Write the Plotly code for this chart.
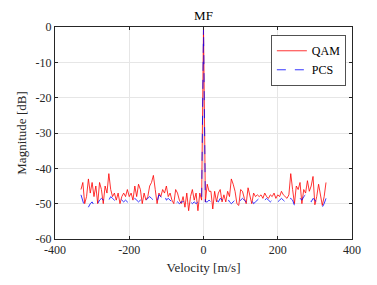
import numpy as np
import plotly.graph_objects as go

velocity = np.arange(-330, 331, 5)

qam_left = [-46, -44, -50, -48, -43, -47, -44, -48, -45, -50, -44,
            -46, -50, -45, -47, -41.5, -46, -48, -47, -49, -47, -50,
            -48, -47, -48, -46, -48, -47, -49, -45, -48, -44.5, -46,
            -50, -47, -49, -48, -45, -44, -42, -46, -50, -47, -48,
            -46, -47, -45, -48, -47, -49, -50, -46, -47, -49, -50,
            -48, -51, -47, -52, -48, -46, -49, -47, -52, -47, -49]
qam_right = [-49.5, -44.5, -46.5, -46.5, -51.5, -46.5, -49.5, -47, -46, -49.5, -47.5,
             -49.5, -46.5, -48, -43, -44.5, -46.5, -50, -50.5, -46, -46.5, -48.5,
             -50, -45.5, -48, -50, -47, -48, -47.5, -48, -47.5, -48.5, -47,
             -48, -48.5, -47.5, -48, -47, -48.5, -47.5, -48, -46.5, -47.5, -48,
             -48.5, -47.5, -41.5, -46, -50, -45, -46, -44, -50, -46, -47,
             -43.5, -46.5, -45, -42.3, -50.3, -48, -44.5, -47, -50.5, -48, -44]
pcs_left = [-47.5, -49, -51, -50.5, -51, -50, -49.5, -50.5, -51, -50, -49,
            -48.5, -49, -48.5, -49.5, -49, -48, -48.5, -49, -49.5, -49, -48.5,
            -49, -49.5, -49, -49.5, -50, -49.5, -49, -48.5, -49, -49.5, -49,
            -49.5, -50, -49, -48.5, -48, -48.5, -49, -50, -49.5, -47.5, -48,
            -48.5, -47.5, -49, -48.5, -49, -49.5, -49, -50, -49.5, -50, -49.5,
            -49.5, -49, -49.5, -49.5, -49.5, -50, -49.5, -50, -49.5, -49.5, -49.5]
pcs_right = [-49.5, -49.5, -49, -49.5, -50, -49.5, -49, -49.5, -48.5, -49, -48.5,
             -48, -48.5, -49.5, -50, -49.5, -49, -50, -49.5, -49, -48.5, -49,
             -49.5, -49, -48.5, -49, -50, -49.5, -49, -48.5, -49, -49.5, -49,
             -48.5, -49, -49.5, -49, -48.5, -49, -49.5, -49, -48.5, -49, -49.5,
             -50, -49, -48.5, -49, -50.5, -49.5, -49, -48.5, -49, -48, -47.5,
             -48, -49, -49.5, -48.5, -49, -49.5, -50, -50.5, -51, -50, -48.5]
peak = [0]

qam = qam_left + peak + qam_right
pcs = pcs_left + peak + pcs_right

x_ticks = [-400, -200, 0, 200, 400]
y_ticks = [0, -10, -20, -30, -40, -50, -60]

font = "Liberation Serif, Times New Roman, serif"

fig = go.Figure()
fig.add_trace(go.Scatter(x=velocity, y=qam, mode="lines", name="QAM",
                         line=dict(color="#ff0000", width=0.8)))
fig.add_trace(go.Scatter(x=velocity, y=pcs, mode="lines", name="PCS",
                         line=dict(color="#0000ff", width=0.8, dash="dash")))

axis_common = dict(showline=True, linecolor="#262626", linewidth=1, mirror="ticks",
                   ticks="inside", ticklen=3, tickcolor="#262626",
                   showgrid=True, gridcolor="#e6e6e6", gridwidth=1, zeroline=False,
                   tickfont=dict(family=font, size=12, color="#262626"))

fig.update_layout(
    width=369, height=277,
    margin=dict(l=42, r=25, t=15, b=43),
    paper_bgcolor="white", plot_bgcolor="white",
    title=dict(text="MF", xref="paper", x=0.5, xanchor="center",
               yref="container", y=0.99, yanchor="top",
               font=dict(family=font, size=13, color="black")),
    xaxis=dict(range=[-400, 400], tickvals=x_ticks,
               ticktext=[str(v) for v in x_ticks],
               title=dict(text="Velocity [m/s]", standoff=6,
                          font=dict(family=font, size=13, color="#262626")),
               **axis_common),
    yaxis=dict(range=[-60, 0], tickvals=y_ticks,
               ticktext=[str(v) for v in y_ticks],
               title=dict(text="Magnitude [dB]", standoff=6,
                          font=dict(family=font, size=13, color="#262626")),
               **axis_common),
    legend=dict(x=0.98, y=0.96, xanchor="right", yanchor="top",
                bgcolor="white", bordercolor="#262626", borderwidth=0.8,
                font=dict(family=font, size=12, color="black"),
                tracegroupgap=0, itemwidth=30),
    showlegend=True,
)

fig.write_html("out.html")
